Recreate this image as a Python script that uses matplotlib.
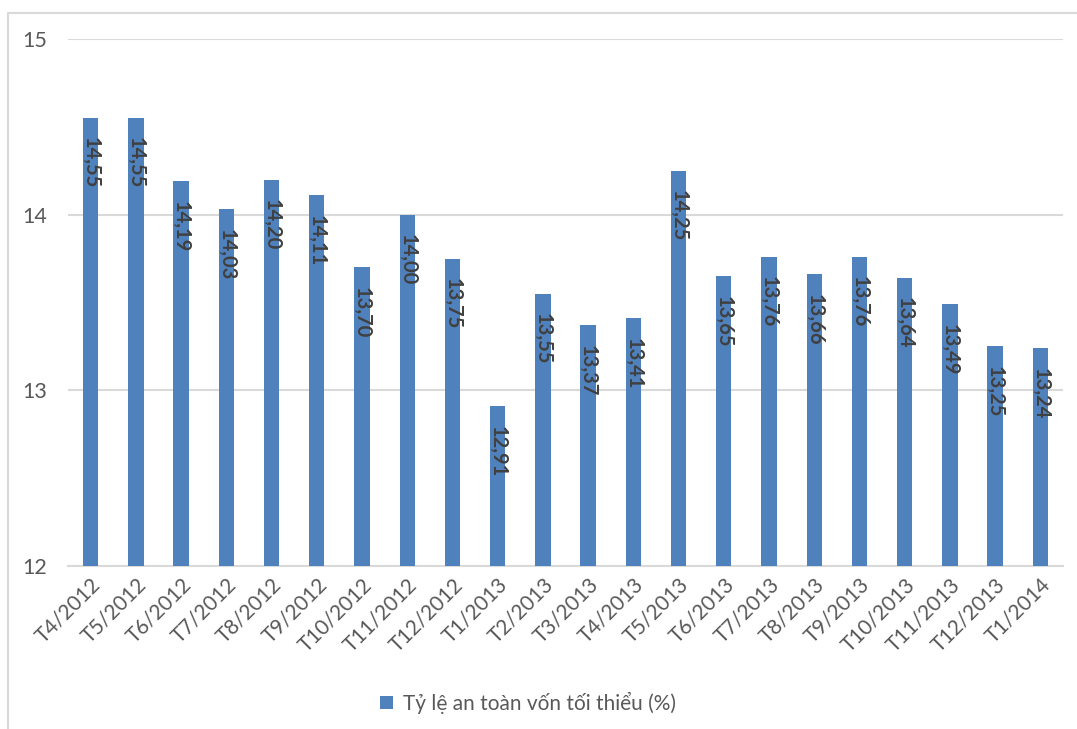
import matplotlib
matplotlib.use("Agg")
import matplotlib.pyplot as plt
from matplotlib.patches import Rectangle

categories = ["T4/2012", "T5/2012", "T6/2012", "T7/2012", "T8/2012", "T9/2012",
              "T10/2012", "T11/2012", "T12/2012", "T1/2013", "T2/2013", "T3/2013",
              "T4/2013", "T5/2013", "T6/2013", "T7/2013", "T8/2013", "T9/2013",
              "T10/2013", "T11/2013", "T12/2013", "T1/2014"]
values = [14.55, 14.55, 14.19, 14.03, 14.20, 14.11, 13.70, 14.00, 13.75, 12.91,
          13.55, 13.37, 13.41, 14.25, 13.65, 13.76, 13.66, 13.76, 13.64, 13.49,
          13.25, 13.24]
series_name = "Tỷ lệ an toàn vốn tối thiểu (%)"
yticks = [12, 13, 14, 15]

plt.rcParams['font.family'] = ['Lato', 'DejaVu Sans']

fig = plt.figure(figsize=(10.77, 7.29), dpi=100)
fig.patches.append(Rectangle((8/1077, -0.1), 1.2, 1 - 13/729 + 0.1,
                             transform=fig.transFigure, fill=False,
                             edgecolor='#d9d9d9', linewidth=1.5))
ax = fig.add_axes([68/1077, 1 - 566/729, (1063 - 68)/1077, (566 - 39)/729])

x = list(range(len(categories)))
bars = ax.bar(x, values, width=0.34, color='#4f81bd', zorder=3,
              label=series_name)
ax.set_ylim(12, 15)
ax.set_xlim(-0.5, len(categories) - 0.5)
ax.set_yticks(yticks)
ax.set_yticklabels([str(t) for t in yticks], fontsize=15.5, color='#595959')
ax.set_xticks(x)
ax.set_xticklabels(categories, rotation=45, ha='right', rotation_mode='anchor',
                   fontsize=15, color='#595959')
ax.tick_params(axis='both', length=0)
ax.tick_params(axis='y', pad=15)
ax.tick_params(axis='x', pad=6)
ax.grid(axis='y', color='#d9d9d9', linewidth=1.5, zorder=0)
for s in ['top', 'right', 'left']:
    ax.spines[s].set_visible(False)
ax.spines['bottom'].set_color('#d9d9d9')
ax.spines['bottom'].set_linewidth(1.5)

for xi, v in zip(x, values):
    ax.annotate(f"{v:.2f}".replace('.', ','), xy=(xi, v), xytext=(0, -14),
                textcoords='offset points', rotation=270, ha='center', va='top',
                fontsize=14.5, fontweight='bold', color='#404040', zorder=4)

leg = fig.legend(handles=[bars], labels=[series_name], loc='center',
                 bbox_to_anchor=(528/1077, 1 - 703/729), frameon=False,
                 fontsize=15, handlelength=0.6, handleheight=0.6,
                 handletextpad=0.5)
for t in leg.get_texts():
    t.set_color('#595959')

fig.savefig("out.png", dpi=100)
